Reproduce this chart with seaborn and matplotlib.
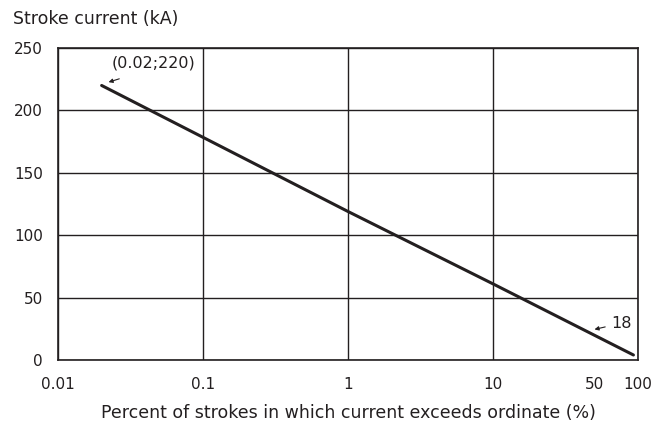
import numpy as np
import pandas as pd
import matplotlib
matplotlib.use("Agg")
import matplotlib.pyplot as plt
import seaborn as sns

# values
percent = [0.02, 1, 10, 93]
current = [220, 119, 61, 4]
x_ticks = [0.01, 0.1, 1, 10, 100]
x_labels = ["0.01", "0.1", "1", "10", "100"]
extra_tick = [50]
y_ticks = [0, 50, 100, 150, 200, 250]

sns.set_theme(style="white")
plt.rcParams["font.family"] = ["DejaVu Sans"]
ink = "#231f20"
tick_fs = 11
text_fs = 12.5

df = pd.DataFrame({"percent": percent, "current": current})

fig = plt.figure(figsize=(6.65, 4.24), dpi=100)
ax = fig.add_axes([0.0872, 0.151, 0.8722, 0.7357])

sns.lineplot(data=df, x="percent", y="current", ax=ax, color=ink, linewidth=2.2)

ax.set_xscale("log")
ax.set_xlim(0.01, 100)
ax.set_ylim(0, 250)
ax.set_xticks(x_ticks)
ax.set_xticklabels(x_labels)
ax.set_xticks(extra_tick, minor=True)
ax.set_xticklabels([str(v) for v in extra_tick], minor=True)
ax.set_yticks(y_ticks)
ax.set_yticklabels([str(v) for v in y_ticks])

ax.grid(True, which="major", color=ink, linewidth=1.0)
ax.tick_params(which="major", length=0, labelsize=tick_fs, colors=ink, pad=12)
ax.tick_params(axis="y", pad=11)
ax.tick_params(which="minor", axis="x", direction="in", length=7, width=1.0,
               color=ink, labelsize=tick_fs, labelcolor=ink, pad=12)
for s in ax.spines.values():
    s.set_color(ink)
    s.set_linewidth(1.2)

ax.set_xlabel("Percent of strokes in which current exceeds ordinate (%)",
              fontsize=text_fs, color=ink, labelpad=9)
ax.set_ylabel("")
fig.text(0.02, 0.955, "Stroke current (kA)", fontsize=text_fs, color=ink, va="center", ha="left")

arrow = dict(arrowstyle="-|>", color=ink, lw=0.8, mutation_scale=6)
ax.annotate("", xy=(0.0214, 222), xytext=(0.0276, 226), arrowprops=arrow)
ax.text(0.0236, 238, "(0.02;220)", fontsize=11.5, color=ink, va="center", ha="left")
ax.annotate("", xy=(48, 24), xytext=(62, 27), arrowprops=arrow)
ax.text(65, 29.5, "18", fontsize=11.5, color=ink, va="center", ha="left")

fig.savefig("out.png", dpi=100)
